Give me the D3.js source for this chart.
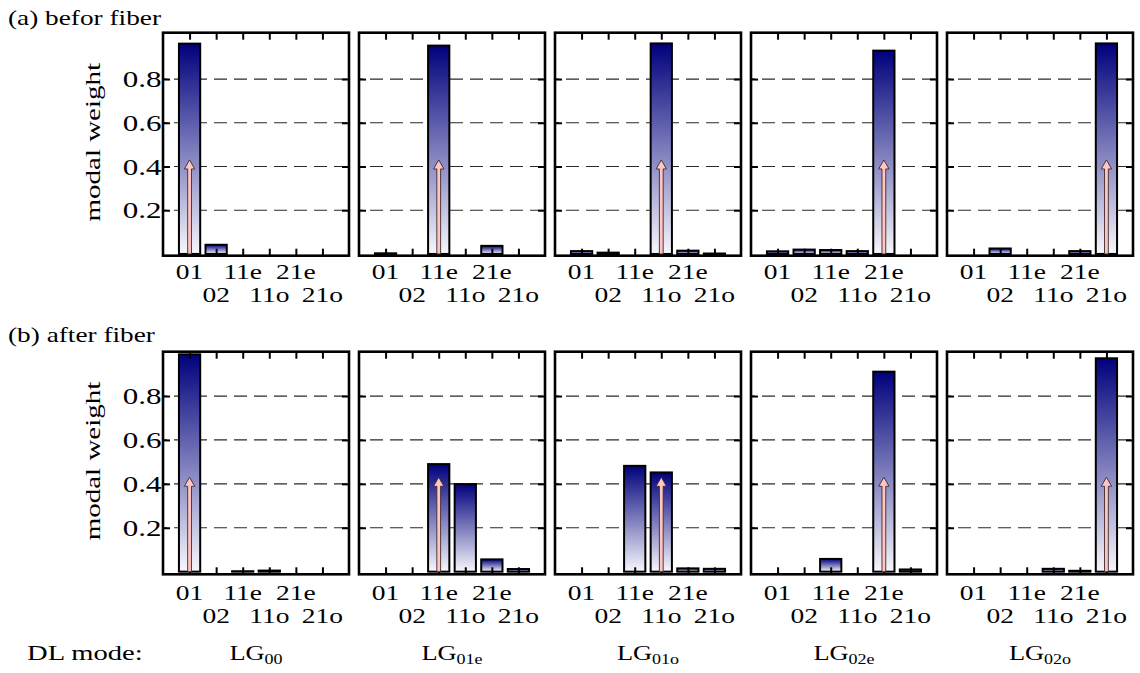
<!DOCTYPE html>
<html>
<head>
<meta charset="utf-8">
<script src="https://cdn.jsdelivr.net/npm/d3@7"></script>
<style>
  html, body { margin: 0; padding: 0; background: #ffffff; }
  svg { display: block; }
  text { font-family: "Liberation Serif", "Times New Roman", serif; fill: #000; }
</style>
</head>
<body>
<svg id="chart" width="1140" height="673"></svg>
<script>
// Fiber modes on the x axis of every panel
const modes = ["01", "02", "11e", "11o", "21e", "21o"];
// Launched (DL) mode of each column, written as LG with this subscript
const dlModeSubs = ["00", "01e", "01o", "02e", "02o"];
// Index into `modes` of the launched mode for each column (pink arrow)
const launchedMode = [0, 2, 3, 4, 5];
// Measured modal weights before the fiber, one array per DL mode
const beforeFiber = [
  [0.962, 0.042, 0, 0, 0, 0],
  [0.003, 0, 0.953, 0, 0.037, 0],
  [0.013, 0.006, 0, 0.963, 0.015, 0.002],
  [0.012, 0.02, 0.018, 0.013, 0.93, 0],
  [0, 0.025, 0, 0, 0.013, 0.963]
];
// Measured modal weights after the fiber
const afterFiber = [
  [0.99, 0, 0.002, 0.005, 0, 0],
  [0, 0, 0.49, 0.399, 0.056, 0.012],
  [0, 0, 0.482, 0.452, 0.015, 0.013],
  [0, 0, 0.058, 0, 0.911, 0.01],
  [0, 0, 0, 0.013, 0.004, 0.972]
];
const rowTitles = ["(a) befor fiber", "(b) after fiber"];
const yTickValues = [0.2, 0.4, 0.6, 0.8];
const yTickLabels = ["0.2", "0.4", "0.6", "0.8"];
const arrowLength = 0.43;
const yLabel = "modal weight";
const dlLabel = "DL mode:";

// ---------------- layout ----------------
const svg = d3.select("#chart");
const panelW = 186, panelStep = 196, firstLeft = 163;
const textScale = 1.3;           // horizontal stretch of all lettering

const rows = [
  { data: beforeFiber, title: rowTitles[0], top: 32.7, bottom: 255.7,
    domain: [-0.008, 1.012], titleY: 24.5, lab1: 279.3, lab2: 301.7 },
  { data: afterFiber, title: rowTitles[1], top: 351.7, bottom: 574.3,
    domain: [-0.012, 1.002], titleY: 341.5, lab1: 600, lab2: 622.7 }
];

const defs = svg.append("defs");
const grad = defs.append("linearGradient")
  .attr("id", "barFill").attr("x1", 0).attr("y1", 0).attr("x2", 0).attr("y2", 1);
grad.append("stop").attr("offset", "0%").attr("stop-color", "#00007c");
grad.append("stop").attr("offset", "100%").attr("stop-color", "#f7f7fc");

function label(parent, x, y, str, anchor, size, rotate, sx) {
  const t = parent.append("text")
    .attr("transform", `translate(${x},${y})` + (rotate ? ` rotate(${rotate})` : "") + ` scale(${sx || textScale},1)`)
    .attr("text-anchor", anchor || "start")
    .attr("font-size", size);
  if (str !== null) t.text(str);
  return t;
}

rows.forEach((row, r) => {
  const y = d3.scaleLinear().domain(row.domain).range([row.bottom, row.top]);

  // row title
  label(svg, 8, row.titleY, row.title, "start", 21, 0, 1.3);

  // y axis title
  label(svg, 100, (row.top + row.bottom) / 2 - 2, yLabel, "middle", 21, -90, 1.38);

  row.data.forEach((vals, p) => {
    const left = firstLeft + p * panelStep;
    const x = d3.scaleLinear().domain([0, modes.length + 1]).range([left, left + panelW]);
    const barW = x(0.8) - x(0);
    const g = svg.append("g");

    // dashed horizontal grid
    g.selectAll("line.grid").data(yTickValues).join("line")
      .attr("class", "grid")
      .attr("x1", left).attr("x2", left + panelW)
      .attr("y1", d => y(d)).attr("y2", d => y(d))
      .attr("stroke", "#2a2a2a").attr("stroke-width", 1.2)
      .attr("stroke-dasharray", "13,7").attr("stroke-dashoffset", 9);

    // bars
    g.selectAll("rect.bar").data(vals.map((v, i) => ({ v, i })).filter(d => d.v > 0)).join("rect")
      .attr("class", "bar")
      .attr("x", d => x(d.i + 1) - barW / 2)
      .attr("width", barW)
      .attr("y", d => y(d.v))
      .attr("height", d => y(0) - y(d.v))
      .attr("fill", "url(#barFill)")
      .attr("stroke", "#000").attr("stroke-width", 2);

    // inward ticks on all four sides
    const tickVals = d3.range(1, modes.length + 1);
    const axes = [
      [d3.axisBottom(x).tickValues(tickVals), `translate(0,${row.bottom})`],
      [d3.axisTop(x).tickValues(tickVals), `translate(0,${row.top})`],
      [d3.axisLeft(y).tickValues(yTickValues), `translate(${left},0)`],
      [d3.axisRight(y).tickValues(yTickValues), `translate(${left + panelW},0)`]
    ];
    axes.forEach(([ax, tr]) => {
      const a = g.append("g").attr("transform", tr)
        .call(ax.tickSize(-7).tickFormat(""));
      a.select(".domain").remove();
      a.selectAll("line").attr("stroke", "#000").attr("stroke-width", 2);
    });

    // frame
    g.append("rect")
      .attr("x", left).attr("y", row.top)
      .attr("width", panelW).attr("height", row.bottom - row.top)
      .attr("fill", "none").attr("stroke", "#000").attr("stroke-width", 2.6);

    // pink arrow marking the launched mode
    const cx = x(launchedMode[p] + 1);
    const yb = y(0), yt = y(arrowLength);
    const sw = 1.9, hw = 5.2, hl = 9;
    g.append("path")
      .attr("d", `M${cx - sw},${yb} L${cx - sw},${yt + hl} L${cx - hw},${yt + hl} L${cx},${yt} L${cx + hw},${yt + hl} L${cx + sw},${yt + hl} L${cx + sw},${yb} Z`)
      .attr("fill", "#ffc4c4").attr("stroke", "#3a2a2a").attr("stroke-width", 0.9)
      .attr("stroke-linejoin", "miter");

    // x tick labels, staggered in two lines
    modes.forEach((m, i) => {
      label(g, x(i + 1), i % 2 === 0 ? row.lab1 : row.lab2, m, "middle", 22, 0, 1.25);
    });

    // y tick labels only on the first column
    if (p === 0) {
      yTickValues.forEach((v, k) => {
        label(g, left - 1.5, y(v) + 8, yTickLabels[k], "end", 23, 0, 1.35);
      });
    }

    // DL mode names under the lower row
    if (r === rows.length - 1) {
      const t = label(g, left + panelW / 2, 660, null, "middle", 22, 0, 1.2);
      t.append("tspan").text("LG");
      t.append("tspan").attr("font-size", 15).attr("dy", 4).text(dlModeSubs[p]);
    }
  });
});

label(svg, 27, 660, dlLabel, "start", 22, 0, 1.3);
</script>
</body>
</html>
